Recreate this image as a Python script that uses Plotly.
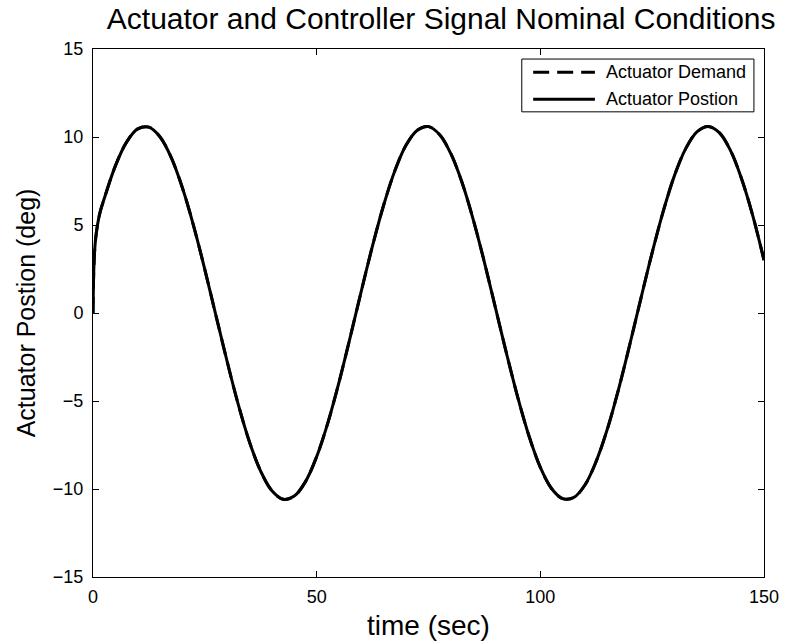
import plotly.graph_objects as go

# Time samples (sec) and actuator angles (deg)
time_sec = [0, 0.2, 0.5, 1.0, 1.6, 2.5, 5, 7.5, 10, 12.5, 15, 17.5, 20, 22.5, 25, 27.5,
            30, 32.5, 35, 37.5, 40, 42.5, 45, 47.5, 50, 52.5, 55, 57.5, 60, 62.5,
            65, 67.5, 70, 72.5, 75, 77.5, 80, 82.5, 85, 87.5, 90, 92.5, 95, 97.5,
            100, 102.5, 105, 107.5, 110, 112.5, 115, 117.5, 120, 122.5, 125, 127.5,
            130, 132.5, 135, 137.5, 140, 142.5, 145, 147.5, 150]

actuator_demand = [0, 2.6, 4.0, 5.0, 5.75, 6.49, 8.36, 9.71, 10.46, 10.56, 10.00, 8.83, 7.10,
                   4.94, 2.47, -0.16, -2.77, -5.22, -7.34, -9.00, -10.10, -10.58, -10.40,
                   -9.58, -8.16, -6.24, -3.93, -1.37, 1.27, 3.83, 6.15, 8.10, 9.54, 10.38,
                   10.59, 10.13, 9.05, 7.41, 5.31, 2.88, 0.26, -2.36, -4.84, -7.02, -8.77,
                   -9.97, -10.55, -10.48, -9.76, -8.42, -6.58, -4.32, -1.79, 0.85, 3.43,
                   5.80, 7.82, 9.34, 10.29, 10.60, 10.25, 9.24, 7.62, 5.52, 3.0]

actuator_position = [0, 2.6, 4.0, 5.0, 5.75, 6.49, 8.36, 9.71, 10.46, 10.56, 10.00, 8.83, 7.10,
                     4.94, 2.47, -0.16, -2.77, -5.22, -7.34, -9.00, -10.10, -10.58, -10.40,
                     -9.58, -8.16, -6.24, -3.93, -1.37, 1.27, 3.83, 6.15, 8.10, 9.54, 10.38,
                     10.59, 10.13, 9.05, 7.41, 5.31, 2.88, 0.26, -2.36, -4.84, -7.02, -8.77,
                     -9.97, -10.55, -10.48, -9.76, -8.42, -6.58, -4.32, -1.79, 0.85, 3.43,
                     5.80, 7.82, 9.34, 10.29, 10.60, 10.25, 9.24, 7.62, 5.52, 3.0]

series_names = ["Actuator Demand", "Actuator Postion"]
series_dash = ["16px,8px", "solid"]

x_ticks = [0, 50, 100, 150]
y_ticks = [-15, -10, -5, 0, 5, 10, 15]

FONT = "Liberation Sans, Arial, Helvetica, sans-serif"
LINE_W = 3

fig = go.Figure()
for name, ys, dash in zip(series_names, [actuator_demand, actuator_position], series_dash):
    fig.add_trace(go.Scatter(
        x=time_sec, y=ys, mode="lines", name=name, showlegend=False,
        line=dict(color="black", width=LINE_W, dash=dash, shape="spline", smoothing=1.0),
    ))

axis_common = dict(
    showgrid=False, zeroline=False, showline=True, linecolor="black", linewidth=1,
    mirror="ticks", ticks="inside", ticklen=6, tickcolor="black", tickwidth=1,
    tickfont=dict(family=FONT, size=18, color="black"), automargin=False,
)

fig.update_xaxes(range=[0, 150], tickvals=x_ticks,
                 title=dict(text="time (sec)", font=dict(family=FONT, size=28, color="black"),
                            standoff=9),
                 ticklabelstandoff=3,
                 **axis_common)
fig.update_yaxes(range=[-15, 15], tickvals=y_ticks,
                 title=dict(text="Actuator Postion (deg)",
                            font=dict(family=FONT, size=25, color="black"), standoff=10),
                 ticklabelstandoff=5,
                 **axis_common)

# Boxed legend in the upper-right corner of the axes
box = dict(x0=0.639, x1=0.985, y0=0.881, y1=0.981)
rows_y = [0.956, 0.905]
sample_x = (0.656, 0.748)
text_x = 0.762

fig.add_shape(type="rect", xref="paper", yref="paper", **box,
              line=dict(color="black", width=1), fillcolor="white", layer="above")
for name, dash, ry in zip(series_names, series_dash, rows_y):
    fig.add_shape(type="line", xref="paper", yref="paper",
                  x0=sample_x[0], x1=sample_x[1], y0=ry, y1=ry,
                  line=dict(color="black", width=LINE_W, dash=dash), layer="above")
    fig.add_annotation(xref="paper", yref="paper", x=text_x, y=ry, text=name,
                       showarrow=False, xanchor="left", yanchor="middle",
                       font=dict(family=FONT, size=18, color="black"))

fig.update_layout(
    width=785, height=643,
    margin=dict(l=93, r=21, t=49, b=66),
    paper_bgcolor="white", plot_bgcolor="white",
    title=dict(text="Actuator and Controller Signal Nominal Conditions",
               font=dict(family=FONT, size=30, color="black"),
               x=0.562, xanchor="center", y=0.971, yanchor="middle"),
    showlegend=False,
)

fig.write_html("out.html")
